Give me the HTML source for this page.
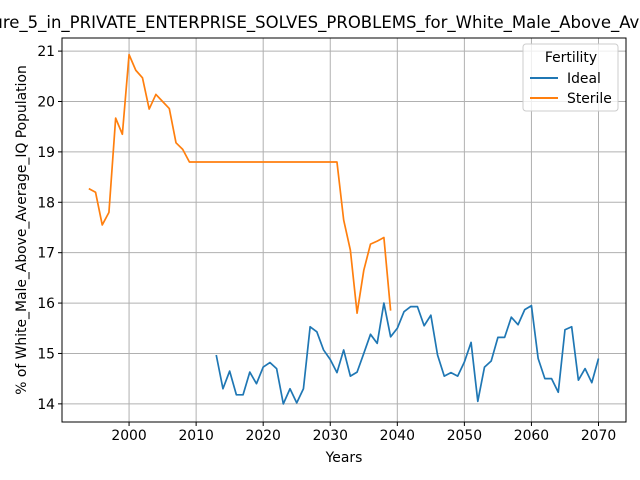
<!DOCTYPE html>
<html><head><meta charset="utf-8"><style>
html,body{margin:0;padding:0;background:#fff;width:640px;height:480px;overflow:hidden}
svg text{font-family:"DejaVu Sans","Liberation Sans",sans-serif;fill:#000}
</style></head><body>
<svg id="chart" width="640" height="480" xmlns="http://www.w3.org/2000/svg">
<text x="328" y="28" font-size="16.5" text-anchor="middle">Figure_5_in_PRIVATE_ENTERPRISE_SOLVES_PROBLEMS_for_White_Male_Above_Average</text>
<g id="grid"></g>
<g id="series"></g>
<rect x="62" y="38" width="564" height="384" fill="none" stroke="#000" stroke-width="1"/>
<g id="ticks"></g>
<text x="344" y="462" font-size="13.9" text-anchor="middle">Years</text>
<text transform="translate(26,230) rotate(-90)" font-size="13.9" text-anchor="middle">% of White_Male_Above_Average_IQ Population</text>
<g>
<rect x="523" y="44" width="95" height="67" rx="3" fill="#fff" fill-opacity="0.8" stroke="#ccc"/>
<text x="571" y="62" font-size="13.9" text-anchor="middle">Fertility</text>
<line x1="530" y1="78" x2="558" y2="78" stroke="#1f77b4" stroke-width="2"/>
<text x="567" y="83" font-size="13.9">Ideal</text>
<line x1="530" y1="98" x2="558" y2="98" stroke="#ff7f0e" stroke-width="2"/>
<text x="567" y="103" font-size="13.9">Sterile</text>
</g>
</svg>
<script>
const xTicks=[2000,2010,2020,2030,2040,2050,2060,2070];
const yTicks=[14,15,16,17,18,19,20,21];
const idealStart=2013;
const idealValues=[14.97,14.3,14.65,14.18,14.18,14.63,14.4,14.73,14.82,14.7,14.0,14.3,14.02,14.3,15.53,15.43,15.07,14.88,14.62,15.07,14.55,14.63,15.0,15.38,15.2,16.0,15.33,15.5,15.83,15.93,15.93,15.55,15.76,14.97,14.55,14.62,14.55,14.83,15.22,14.05,14.73,14.85,15.32,15.32,15.72,15.57,15.87,15.95,14.9,14.5,14.5,14.23,15.47,15.53,14.47,14.7,14.42,14.9];
const sterileStart=1994;
const sterileValues=[18.27,18.2,17.55,17.8,19.67,19.35,20.93,20.62,20.47,19.85,20.14,20.0,19.86,19.18,19.05,18.8,18.8,18.8,18.8,18.8,18.8,18.8,18.8,18.8,18.8,18.8,18.8,18.8,18.8,18.8,18.8,18.8,18.8,18.8,18.8,18.8,18.8,18.8,17.65,17.05,15.8,16.65,17.17,17.23,17.3,15.85];
const X0=62,X1=626,Y0=422,Y1=38,xmin=1990.0,xmax=2074.1,ymin=13.64,ymax=21.26;
const sx=v=>X0+(v-xmin)/(xmax-xmin)*(X1-X0);
const sy=v=>Y0-(v-ymin)/(ymax-ymin)*(Y0-Y1);
const NS='http://www.w3.org/2000/svg';
const grid=document.getElementById('grid'),ticks=document.getElementById('ticks'),ser=document.getElementById('series');
function mk(tag,attrs,parent){const e=document.createElementNS(NS,tag);for(const k in attrs)e.setAttribute(k,attrs[k]);parent.appendChild(e);return e;}
xTicks.forEach(t=>{const x=sx(t);
const g=mk('line',{x1:x,x2:x,y1:Y1,y2:Y0,stroke:'#b0b0b0','stroke-width':1},grid);


mk('line',{x1:x,x2:x,y1:Y0,y2:Y0+4,stroke:'#000'},ticks);
const tx=mk('text',{x:x,y:Y0+18,'font-size':13.9,'text-anchor':'middle'},ticks);tx.textContent=t;

});
yTicks.forEach(t=>{const y=sy(t);
const g=mk('line',{x1:X0,x2:X1,y1:y,y2:y,stroke:'#b0b0b0','stroke-width':1},grid);


mk('line',{x1:X0-4,x2:X0,y1:y,y2:y,stroke:'#000'},ticks);
const tx=mk('text',{x:X0-7,y:y+5,'font-size':13.9,'text-anchor':'end'},ticks);tx.textContent=t;

});
function line(start,vals,color,name){const d=vals.map((v,i)=>(i?'L':'M')+sx(start+i).toFixed(2)+' '+sy(v).toFixed(2)).join(' ');
const p=mk('path',{d:d,fill:'none',stroke:color,'stroke-width':1.7,'stroke-linejoin':'round'},ser);

}
line(idealStart,idealValues,'#1f77b4','ideal-line');
line(sterileStart,sterileValues,'#ff7f0e','sterile-line');
</script>
</body></html>
